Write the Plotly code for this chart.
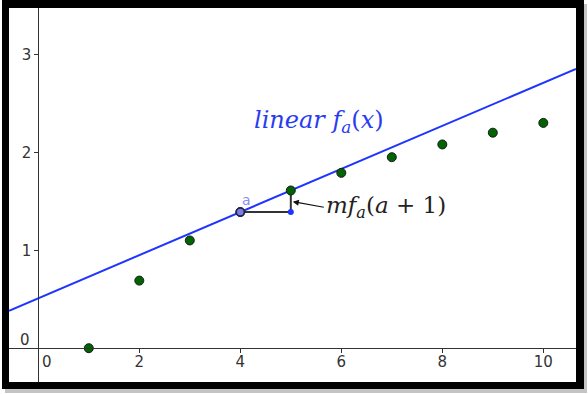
import plotly.graph_objects as go

# ---- data ----
x_vals = [1, 2, 3, 4, 5, 6, 7, 8, 9, 10]
y_vals = [0.0, 0.69, 1.10, 1.39, 1.61, 1.79, 1.95, 2.08, 2.20, 2.30]
a_val = 4
x_ticks = [2, 4, 6, 8, 10]
y_ticks = [1, 2, 3]
x_range = [-0.58, 10.647]
y_range = [-0.345, 3.473]

W, H = 588, 394
L, R, T, B = 9, 576, 8, 382  # plot area in pixels

fa = y_vals[x_vals.index(a_val)]
fa1 = y_vals[x_vals.index(a_val + 1)]
slope = fa1 - fa
line_x = [x_range[0], x_range[1]]
line_y = [fa + slope * (xx - a_val) for xx in line_x]

def px(p):
    return (p - L) / (R - L)

def py(p):
    return (B - p) / (B - T)

fig = go.Figure()

# secant line
fig.add_trace(go.Scatter(x=line_x, y=line_y, mode="lines",
                         line=dict(color="#1f35ff", width=2), hoverinfo="skip"))
# step segments
fig.add_trace(go.Scatter(x=[a_val, a_val + 1, a_val + 1], y=[fa, fa, fa1], mode="lines",
                         line=dict(color="#333333", width=2), hoverinfo="skip"))
# data points
fig.add_trace(go.Scatter(x=x_vals, y=y_vals, mode="markers",
                         marker=dict(size=9, color="#006400", line=dict(color="#1a1a1a", width=1))))
# point a
fig.add_trace(go.Scatter(x=[a_val], y=[fa], mode="markers",
                         marker=dict(size=8, color="#7c7ce6", line=dict(color="#222244", width=1.5))))
# corner point
fig.add_trace(go.Scatter(x=[a_val + 1], y=[fa], mode="markers",
                         marker=dict(size=6, color="#1f35ff", line=dict(width=0))))

tick_font = dict(family="DejaVu Sans", size=15, color="#333333")

x_pos = (0 - y_range[0]) / (y_range[1] - y_range[0])
y_pos = (0 - x_range[0]) / (x_range[1] - x_range[0])

fig.update_layout(
    width=W, height=H,
    margin=dict(l=L, r=W - R, t=T, b=H - B),
    paper_bgcolor="white", plot_bgcolor="white",
    showlegend=False,
    xaxis=dict(range=x_range, showgrid=False, zeroline=False, showline=True,
               linecolor="#333333", linewidth=1, anchor="free", position=x_pos,
               tickvals=x_ticks, ticks="outside", ticklen=4, tickcolor="#333333",
               tickfont=tick_font, ticklabelstandoff=-4, fixedrange=True),
    yaxis=dict(range=y_range, showgrid=False, zeroline=False, showline=True,
               linecolor="#333333", linewidth=1, anchor="free", position=y_pos,
               tickvals=y_ticks, ticks="outside", ticklen=4, tickcolor="#333333",
               tickfont=tick_font, fixedrange=True),
)

# zero labels
fig.add_annotation(x=0, y=0, text="0", showarrow=False, font=tick_font,
                   xshift=9, yshift=-14)
fig.add_annotation(x=0, y=0, text="0", showarrow=False, font=tick_font,
                   xshift=-13, yshift=8)
# label a
fig.add_annotation(x=a_val, y=fa, text="a", showarrow=False,
                   font=dict(family="DejaVu Sans", size=14, color="#8c8cf5"),
                   xshift=6, yshift=12)
# linear f_a(x)
fig.add_annotation(x=5.55, y=2.31, showarrow=False,
                   text="<i>linear f</i><sub><i>a</i></sub>(<i>x</i>)",
                   font=dict(family="DejaVu Serif", size=24, color="#2a3cf0"))
# mf_a(a+1) with arrow
fig.add_annotation(x=a_val + 1, y=(fa + fa1) / 2, showarrow=True,
                   text="<i>mf</i><sub><i>a</i></sub>(<i>a</i> + 1)",
                   font=dict(family="DejaVu Serif", size=23, color="#222222"),
                   xanchor="left", ax=33, ay=6, arrowhead=2, arrowsize=1,
                   arrowwidth=1.2, arrowcolor="#111111", standoff=2)

# frame and shadow
shapes = []
def rect(x0, y0, x1, y1, color):
    shapes.append(dict(type="rect", xref="paper", yref="paper",
                       x0=px(x0), x1=px(x1), y0=py(y1), y1=py(y0),
                       fillcolor=color, line=dict(width=0), layer="above"))
rect(584, 4, 587, 393, "#c4c4c4")
rect(5, 389, 587, 393, "#c4c4c4")
rect(2, 0, 9, 389, "black")
rect(576, 0, 584, 389, "black")
rect(2, 0, 584, 8, "black")
rect(2, 382, 584, 389, "black")
fig.update_layout(shapes=shapes)

fig.write_html("out.html", config={"displayModeBar": False},
               post_script="document.body.style.margin='0px';document.body.style.padding='0px';")
